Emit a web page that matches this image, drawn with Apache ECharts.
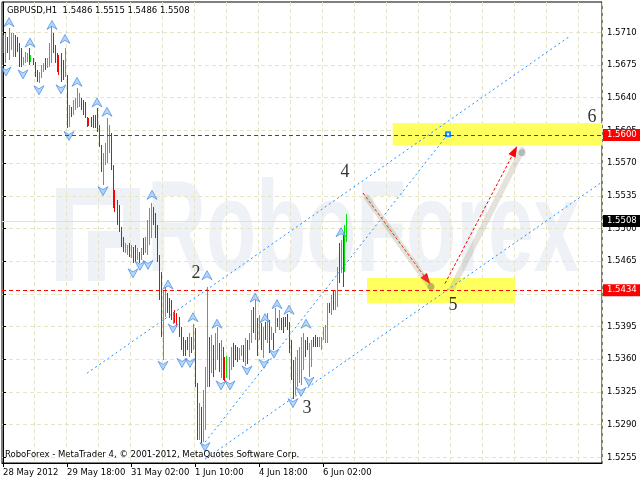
<!DOCTYPE html>
<html><head><meta charset="utf-8">
<script src="https://cdn.jsdelivr.net/npm/echarts@6/dist/echarts.min.js"></script>
<style>html,body{margin:0;padding:0;background:#fff}#c{width:640px;height:480px}</style>
</head><body><div id="c"></div><script>
// ---------- data ----------
const headerText = 'GBPUSD,H1  1.5486 1.5515 1.5486 1.5508';
const footerText = 'RoboForex - MetaTrader 4, \u00A9 2001-2012, MetaQuotes Software Corp.';
const watermarkText = 'RoboForex';
const xTickLabels = ['28 May 2012', '29 May 18:00', '31 May 02:00', '1 Jun 10:00', '4 Jun 18:00', '6 Jun 02:00'];
const yTickValues = [1.5255, 1.5290, 1.5325, 1.5360, 1.5395, 1.5430, 1.5465, 1.5500, 1.5535, 1.5570, 1.5605, 1.5640, 1.5675, 1.5710];
const slotCount = 300;       // hourly slots on the axis (bars + empty future)
const labelEvery = 32;       // bars between date labels
const gridEvery = 16;        // bars between vertical grid lines

const highs = [1.5707,1.5709,1.5705,1.5715,1.5709,1.5709,1.5707,1.5705,1.5699,1.5693,
 1.5684,1.5689,1.5688,1.5693,1.5686,1.5683,1.5678,1.5670,1.5668,1.5675,
 1.5677,1.5683,1.5683,1.5699,1.5717,1.5709,1.5696,1.5688,1.5686,1.5688,
 1.5680,1.5693,1.5664,1.5632,1.5630,1.5638,1.5640,1.5650,1.5645,1.5640,
 1.5638,1.5635,1.5619,1.5618,1.5619,1.5622,1.5622,1.5629,1.5611,1.5589,
 1.5581,1.5592,1.5618,1.5611,1.5602,1.5568,1.5541,1.5531,1.5525,1.5502,
 1.5491,1.5484,1.5482,1.5484,1.5482,1.5480,1.5482,1.5479,1.5475,1.5479,
 1.5490,1.5491,1.5509,1.5522,1.5527,1.5523,1.5517,1.5504,1.5472,1.5453,
 1.5434,1.5437,1.5431,1.5426,1.5423,1.5411,1.5413,1.5410,1.5405,1.5394,
 1.5384,1.5381,1.5384,1.5388,1.5384,1.5398,1.5393,1.5335,1.5313,1.5309,
 1.5327,1.5352,1.5437,1.5384,1.5386,1.5375,1.5388,1.5394,1.5377,1.5381,
 1.5373,1.5362,1.5364,1.5362,1.5373,1.5377,1.5375,1.5373,1.5372,1.5375,
 1.5375,1.5383,1.5381,1.5388,1.5413,1.5416,1.5423,1.5404,1.5407,1.5399,
 1.5394,1.5400,1.5410,1.5402,1.5394,1.5388,1.5415,1.5404,1.5413,1.5404,
 1.5405,1.5405,1.5408,1.5400,1.5381,1.5359,1.5362,1.5370,1.5373,1.5384,
 1.5388,1.5381,1.5384,1.5377,1.5381,1.5384,1.5386,1.5384,1.5384,1.5384,
 1.5394,1.5397,1.5420,1.5420,1.5429,1.5434,1.5434,1.5459,1.5484,1.5488,
 1.5495,1.5504,1.5515];
const lows = [1.5688,1.5677,1.5688,1.5680,1.5691,1.5684,1.5684,1.5689,1.5673,1.5673,
 1.5675,1.5677,1.5678,1.5675,1.5678,1.5675,1.5662,1.5657,1.5656,1.5661,
 1.5668,1.5670,1.5672,1.5673,1.5677,1.5688,1.5677,1.5668,1.5664,1.5657,
 1.5659,1.5662,1.5608,1.5609,1.5619,1.5622,1.5627,1.5629,1.5630,1.5627,
 1.5622,1.5618,1.5609,1.5610,1.5609,1.5608,1.5608,1.5603,1.5587,1.5561,
 1.5547,1.5568,1.5570,1.5581,1.5563,1.5522,1.5518,1.5504,1.5496,1.5480,
 1.5475,1.5474,1.5472,1.5470,1.5468,1.5463,1.5464,1.5466,1.5463,1.5466,
 1.5472,1.5474,1.5472,1.5482,1.5490,1.5504,1.5490,1.5464,1.5423,1.5384,
 1.5359,1.5405,1.5410,1.5404,1.5402,1.5398,1.5399,1.5394,1.5384,1.5370,
 1.5363,1.5364,1.5370,1.5362,1.5367,1.5370,1.5330,1.5274,1.5274,1.5270,
 1.5271,1.5284,1.5330,1.5330,1.5345,1.5341,1.5348,1.5359,1.5346,1.5340,
 1.5338,1.5337,1.5340,1.5338,1.5348,1.5352,1.5359,1.5357,1.5359,1.5364,
 1.5357,1.5353,1.5355,1.5370,1.5377,1.5388,1.5381,1.5364,1.5381,1.5370,
 1.5361,1.5381,1.5377,1.5367,1.5381,1.5370,1.5388,1.5394,1.5391,1.5391,
 1.5388,1.5394,1.5391,1.5367,1.5338,1.5317,1.5322,1.5330,1.5335,1.5332,
 1.5348,1.5362,1.5370,1.5341,1.5352,1.5373,1.5373,1.5373,1.5373,1.5370,
 1.5381,1.5377,1.5377,1.5410,1.5407,1.5413,1.5413,1.5416,1.5442,1.5452,
 1.5437,1.5453,1.5486];
const barDirs = ('duduuudddd' + 'uuududdduu' + 'uduuuddddd' + 'dududuuuud' + 'dddddddddd' +
  'uuuudddddd' + 'duududdudu' + 'duuuuddddd' + 'uudddudddd' + 'dddududdud' +
  'uuududuudu' + 'dduuuddduu' + 'duduududud' + 'ududududud' + 'dddddduuuu' +
  'udduuddduu' + 'uuududuudu' + 'duu').split('');

const fractalUp = [[3,1.5721],[13.5,1.5699],[24.5,1.5718],[31,1.5703],[37,1.5657],[47,1.5635],[52,1.5625],
  [74.5,1.5536],[82.5,1.5440],[95,1.5405],[102,1.5450],[107,1.5398],[126,1.5426],[131,1.5404],
  [137,1.5419],[143,1.5413],[151.5,1.5398],[169,1.5496]];
const fractalDown = [[1.5,1.5668],[10,1.5665],[18,1.5648],[29,1.5649],[33,1.5599],[50,1.5540],[65,1.5452],
  [68.5,1.5460],[72.5,1.5461],[80,1.5353],[85,1.5393],[89.5,1.5356],[93.5,1.5356],[101,1.5266],
  [109,1.5332],[113.5,1.5332],[122,1.5348],[130.5,1.5355],[135.5,1.5366],[145,1.5313],[149,1.5325],[153,1.5336]];

const channelUpper = [[42, 1.5345], [283.5, 1.5706]];
const channelMiddle = [[99.5, 1.5267], [222.5, 1.5601]];
const channelLower = [[101, 1.5253], [299, 1.5549]];

const levelTarget = 1.5600;
const levelPivot = 1.5434;
const lastPrice = 1.5508;
const targetZones = [[[194.85, 1.5613], [299.5, 1.5589]], [[182, 1.5447], [256, 1.5420]]];
const arrowDown = [[180, 1.5538], [212, 1.5445]];
const arrowUp = [[221, 1.5441], [255.8, 1.5583]];
const shadowDown = [[182, 1.5533], [214, 1.5437]];
const shadowUp = [[224.5, 1.5436], [259.5, 1.5584]];
const shadowEnds = [[214, 1.5438], [259.5, 1.5581]];
const waveLabels = [['2', 96.5, 1.5452], ['3', 152, 1.5308], ['4', 171, 1.5560], ['5', 225, 1.5418], ['6', 294.5, 1.5619]];

// ---------- chart ----------
const uiFont = '"DejaVu Sans", Tahoma, sans-serif';
const gridColor = '#e6e6c6';
const upColor = '#00e600';
const downColor = '#ff0000';
const slots = Array.from({ length: slotCount }, (_, i) => String(i));
const labelInterval = (idx) => idx % labelEvery === 0 && idx / labelEvery < xTickLabels.length;

const chart = echarts.init(document.getElementById('c'), null, { renderer: 'canvas' });

const tag = (bg) => ({
  show: true, position: 'end', distance: 1,
  formatter: (p) => Number(p.value).toFixed(4),
  color: '#fff', backgroundColor: bg, padding: [1, 4, 1, 4],
  fontSize: 8.5, fontFamily: uiFont, lineHeight: 10
});
const levelSeries = (value, color, dash, bg, z) => ({
  type: 'line', xAxisIndex: 1, data: [], silent: true, z: z,
  markLine: { silent: true, symbol: ['none', 'none'], animation: false, precision: 4, z: z,
    lineStyle: { color: color, type: dash, width: 1 },
    label: tag(bg),
    data: [{ yAxis: value }] }
});

chart.setOption({
  animation: false,
  backgroundColor: '#fff',
  grid: { left: 2, right: 38, top: 2, bottom: 17, show: true, borderColor: '#000', borderWidth: 1, backgroundColor: 'transparent' },
  xAxis: [
    {
      type: 'category', data: slots, boundaryGap: true, position: 'bottom',
      axisLine: { show: true, lineStyle: { color: '#000', width: 1 } },
      axisTick: { show: true, alignWithLabel: true, interval: labelInterval, length: 4, lineStyle: { color: '#000' } },
      axisLabel: { interval: labelInterval, formatter: (v, idx) => xTickLabels[idx / labelEvery], align: 'left',
        margin: 5, color: '#000', fontSize: 8.5, fontFamily: uiFont },
      splitLine: { show: true, interval: (idx) => idx > 0 && idx % gridEvery === 0, lineStyle: { color: gridColor, type: [4, 3], width: 1 } }
    },
    { type: 'value', min: -0.5, max: slotCount - 0.5, show: false }
  ],
  yAxis: {
    type: 'value', position: 'right', min: 1.52489, max: 1.57425,
    axisLine: { show: true, lineStyle: { color: '#000', width: 1 } },
    axisTick: { show: true, customValues: yTickValues, length: 3, lineStyle: { color: '#000' } },
    axisLabel: { customValues: yTickValues, formatter: (v) => v.toFixed(4), margin: 5, color: '#000', fontSize: 8.5, fontFamily: uiFont },
    splitLine: { show: true, lineStyle: { color: gridColor, type: [4, 3], width: 1 } }
  },
  graphic: [
    { type: 'rect', z: -100, silent: true, shape: { x: 56, y: 188, width: 17, height: 93 }, style: { fill: '#eef1f5' } },
    { type: 'rect', z: -100, silent: true, shape: { x: 56, y: 188, width: 84, height: 17 }, style: { fill: '#eef1f5' } },
    { type: 'rect', z: -100, silent: true, shape: { x: 123, y: 188, width: 17, height: 60 }, style: { fill: '#eef1f5' } },
    { type: 'rect', z: -100, silent: true, shape: { x: 88, y: 231, width: 52, height: 17 }, style: { fill: '#eef1f5' } },
    { type: 'rect', z: -100, silent: true, shape: { x: 88, y: 231, width: 17, height: 50 }, style: { fill: '#eef1f5' } },
    { type: 'text', z: -100, silent: true, x: 147, y: 235, scaleX: 0.63,
      style: { text: watermarkText, x: 0, y: 0, font: 'bold 130px "Liberation Sans", Arial, sans-serif', fill: '#eef1f5', align: 'left', verticalAlign: 'middle' } },
    { type: 'text', z: 100, silent: true, x: 7, y: 11,
      style: { text: headerText, font: '8.5px ' + uiFont, fill: '#000', align: 'left', verticalAlign: 'middle' } },
    { type: 'text', z: 100, silent: true, x: 5, y: 455,
      style: { text: footerText, font: '8.5px ' + uiFont, fill: '#000', align: 'left', verticalAlign: 'middle' } }
  ],
  series: [
    { // target zones
      type: 'line', xAxisIndex: 1, data: [], silent: true, z: 1,
      markArea: { silent: true, itemStyle: { color: '#ffff5e' },
        data: targetZones.map(z => [{ coord: z[0] }, { coord: z[1] }]) }
    },
    levelSeries(lastPrice, '#e2e2cc', 'solid', '#000', 2),
    levelSeries(levelTarget, '#ff0000', [4, 3], '#ff0000', 9),
    levelSeries(levelPivot, '#ff0000', [4, 3], '#ff0000', 9),
    { // price bars (high-low lines)
      type: 'custom', xAxisIndex: 0, z: 3, silent: true,
      data: highs.map((h, i) => ({ value: [i, h, lows[i]], itemStyle: { color: barDirs[i] === 'u' ? upColor : downColor } })),
      encode: { x: 0, y: [1, 2] },
      renderItem: (params, api) => {
        const i = api.value(0);
        const top = api.coord([i, api.value(1)]);
        const bot = api.coord([i, api.value(2)]);
        const x = Math.floor(top[0]);
        return { type: 'rect', shape: { x: x, y: Math.round(top[1]), width: 1, height: Math.max(1, Math.round(bot[1]) - Math.round(top[1])) },
          style: { fill: api.visual('color') } };
      }
    },
    { type: 'line', xAxisIndex: 1, data: channelUpper, showSymbol: false, silent: true, z: 4,
      lineStyle: { color: '#1e90ff', width: 1, type: [2, 3] } },
    { type: 'line', xAxisIndex: 1, silent: true, z: 4,
      data: [{ value: channelMiddle[0], symbol: 'none' }, { value: channelMiddle[1], symbol: 'emptyRect', symbolSize: 4 }],
      itemStyle: { color: '#1e90ff', borderWidth: 1 },
      lineStyle: { color: '#1e90ff', width: 1, type: [2, 3] } },
    { type: 'line', xAxisIndex: 1, data: channelLower, showSymbol: false, silent: true, z: 4,
      lineStyle: { color: '#1e90ff', width: 1, type: [2, 3] } },
    { type: 'line', xAxisIndex: 1, data: shadowDown, showSymbol: false, silent: true, z: 5,
      lineStyle: { color: 'rgba(165,155,120,0.3)', width: 6, cap: 'round' } },
    { type: 'line', xAxisIndex: 1, data: shadowUp, showSymbol: false, silent: true, z: 5,
      lineStyle: { color: 'rgba(165,160,135,0.3)', width: 6, cap: 'round' } },
    { type: 'scatter', xAxisIndex: 1, silent: true, z: 5, symbolSize: 7,
      data: [{ value: shadowEnds[0], itemStyle: { color: 'rgba(140,120,80,0.55)' } },
             { value: shadowEnds[1], itemStyle: { color: 'rgba(120,130,140,0.55)' } }] },
    { // forecast arrows
      type: 'line', xAxisIndex: 1, data: [], silent: true, z: 6,
      markLine: { silent: true, symbol: ['none', 'triangle'], symbolSize: [8, 11], animation: false, precision: 4,
        label: { show: false },
        lineStyle: { color: '#ff0000', type: [3, 2], width: 1 },
        itemStyle: { color: '#ff0000' },
        data: [[{ coord: arrowDown[0] }, { coord: arrowDown[1] }], [{ coord: arrowUp[0] }, { coord: arrowUp[1] }]] }
    },
    { type: 'scatter', xAxisIndex: 1, silent: true, z: 7, data: fractalUp,
      symbol: 'path://M5,0 L10,9 L5,6 L0,9 Z', symbolSize: [10, 9],
      itemStyle: { color: '#a4ccf6', borderColor: '#3282e6', borderWidth: 0.8 } },
    { type: 'scatter', xAxisIndex: 1, silent: true, z: 7, data: fractalDown,
      symbol: 'path://M0,0 L5,3 L10,0 L5,9 Z', symbolSize: [10, 9],
      itemStyle: { color: '#a4ccf6', borderColor: '#3282e6', borderWidth: 0.8 } },
    { type: 'scatter', xAxisIndex: 1, silent: true, z: 8, symbolSize: 1,
      data: waveLabels.map(w => ({ value: [w[1], w[2]], name: w[0] })),
      itemStyle: { color: 'rgba(0,0,0,0)' },
      label: { show: true, position: 'inside', formatter: (p) => p.name, fontFamily: '"Liberation Serif", "Times New Roman", serif', fontSize: 18, color: '#000' } }
  ]
});
</script></body></html>
